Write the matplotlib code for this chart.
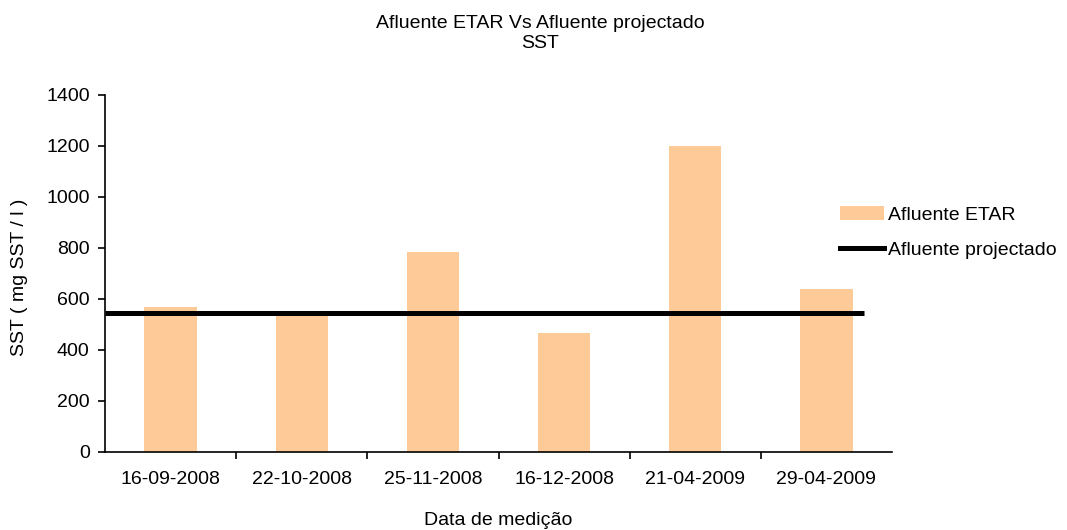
import matplotlib
matplotlib.use("Agg")
import matplotlib.pyplot as plt
from matplotlib.patches import Patch
from matplotlib.lines import Line2D

plt.rcParams['font.family'] = ['Liberation Sans', 'DejaVu Sans']

# Measurement dates and suspended solids (SST) in the plant influent
dates = ['16-09-2008', '22-10-2008', '25-11-2008', '16-12-2008', '21-04-2009', '29-04-2009']
sst_influent = [570, 540, 785, 465, 1200, 640]
# Design (projected) influent SST
sst_design = 546

y_ticks = [0, 200, 400, 600, 800, 1000, 1200, 1400]

bar_color = '#FECB98'
fs = 14

fig = plt.figure(figsize=(10.67, 5.30), dpi=100)
ax = fig.add_axes([0.0984, 0.1472, 0.7376, 0.6736])

x = list(range(len(dates)))
ax.bar(x, sst_influent, width=0.40, color=bar_color, zorder=2)

# Design value drawn as a horizontal line running from the y axis to just past the last bar
ax.set_xlim(-0.5, len(dates) - 0.5)
ax.hlines(sst_design, -0.5, len(dates) - 0.71, color='black', linewidth=3.6, zorder=3)

ax.set_ylim(0, 1400)
ax.set_yticks(y_ticks)
ax.set_yticklabels([str(v) for v in y_ticks], fontsize=fs)

ax.set_xticks(x)
ax.set_xticklabels(dates, fontsize=fs)
ax.set_xticks([i + 0.5 for i in x[:-1]], minor=True)
ax.tick_params(axis='x', which='major', length=0, pad=14)
ax.tick_params(axis='x', which='minor', length=5, width=1.2, direction='out')
ax.tick_params(axis='y', which='major', length=5, width=1.2, direction='out', pad=6)

for side in ('top', 'right'):
    ax.spines[side].set_visible(False)
for side in ('left', 'bottom'):
    ax.spines[side].set_linewidth(1.2)

ax.set_ylabel('SST ( mg SST / l )', fontsize=fs)
ax.yaxis.set_label_coords(-0.098, 0.49)
ax.set_xlabel('Data de medição', fontsize=fs)
ax.xaxis.set_label_coords(0.5, -0.168)

fig.text(0.506, 1 - 15 / 530, 'Afluente ETAR Vs Afluente projectado\nSST',
         ha='center', va='top', fontsize=fs)

handles = [Patch(facecolor=bar_color, edgecolor='none', label='Afluente ETAR'),
           Line2D([0], [0], color='black', linewidth=3.6, label='Afluente projectado')]
fig.legend(handles=handles, loc='upper left', bbox_to_anchor=(840 / 1067, 1 - 206 / 530),
           frameon=False, fontsize=fs, handlelength=2.27, handleheight=0.7,
           handletextpad=0.2, labelspacing=0.9, borderpad=0, borderaxespad=0)

fig.savefig('out.png', dpi=100)
